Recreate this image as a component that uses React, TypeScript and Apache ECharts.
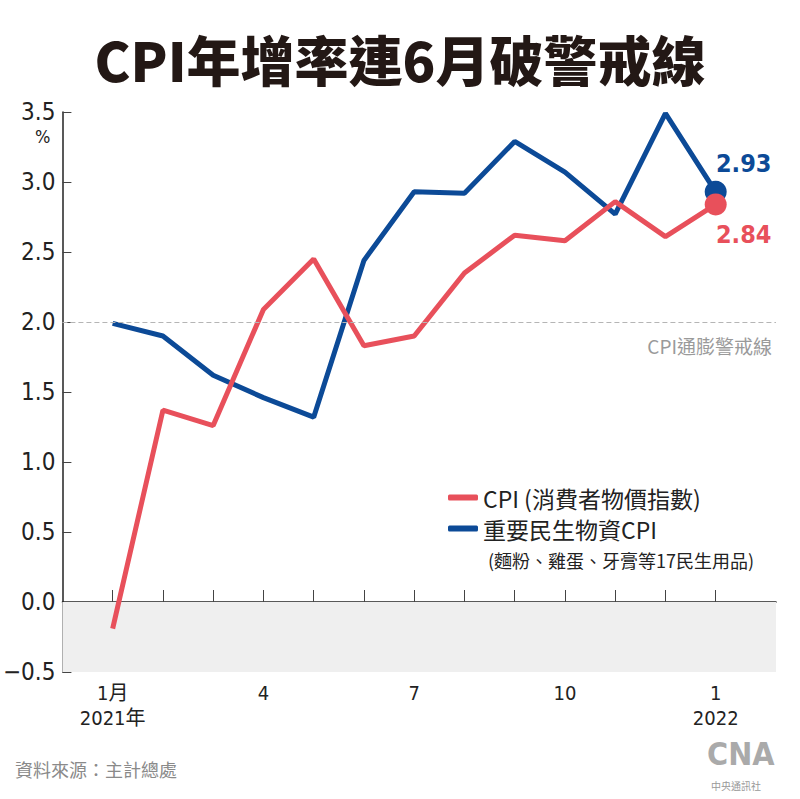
import React, { useEffect, useRef } from "react";
import * as echarts from "echarts";

const months = [1, 2, 3, 4, 5, 6, 7, 8, 9, 10, 11, 12, 13];
const cpi = [-0.19, 1.37, 1.26, 2.09, 2.45, 1.83, 1.9, 2.35, 2.62, 2.58, 2.86, 2.61, 2.84];
const essentials = [1.99, 1.9, 1.62, 1.46, 1.32, 2.44, 2.93, 2.92, 3.29, 3.07, 2.77, 3.49, 2.93];
const labelMonths = [1, 4, 7, 10, 13];
const labelText: Record<number, string> = { 1: "1月\n2021年", 4: "4", 7: "7", 10: "10", 13: "1\n2022" };
const yTicks = [-0.5, 0, 0.5, 1, 1.5, 2, 2.5, 3, 3.5];
const alertLevel = 2.0;

const RED = "#e8505b";
const BLUE = "#0c4a97";
const NUM_FONT = "'Liberation Sans Narrow', 'DejaVu Sans Condensed', 'Noto Sans CJK TC', sans-serif";
const CJK = "'Noto Sans CJK TC', sans-serif";

export default function App() {
  const ref = useRef<HTMLDivElement>(null);
  useEffect(() => {
    document.body.style.margin = "0";
    const chart = echarts.init(ref.current!, null, { renderer: "svg" });
    const mk = (vals: number[], color: string, labelOffset: number[]) =>
      vals.map((v, i) => {
        const base: any = { value: [months[i], v] };
        if (i === vals.length - 1) {
          base.symbol = "circle";
          base.symbolSize = 22;
          base.label = {
            show: true,
            formatter: v.toFixed(2),
            color,
            fontSize: 25,
            fontWeight: "bold",
            fontFamily: NUM_FONT,
            position: "inside",
            offset: labelOffset,
          };
        }
        return base;
      });
    chart.setOption({
      animation: false,
      backgroundColor: "#ffffff",
      grid: { left: 58, right: 24, top: 112, bottom: 127 },
      title: {
        text: "CPI年增率連6月破警戒線",
        left: "center",
        top: 26,
        textStyle: { fontFamily: CJK, fontWeight: 900, fontSize: 54, color: "#231815" },
      },
      legend: {
        orient: "vertical",
        left: 448,
        top: 482,
        itemWidth: 30,
        itemHeight: 6,
        itemGap: 0,
        padding: 0,
        icon: "roundRect",
        textStyle: { fontFamily: CJK, fontSize: 23, lineHeight: 31, color: "#222" },
        data: ["CPI (消費者物價指數)", "重要民生物資CPI"],
      },
      xAxis: {
        type: "value",
        min: 0,
        max: 14.2,
        axisLine: { show: true, lineStyle: { color: "#222", width: 1.5 } },
        axisTick: { show: true, inside: true, length: 12, customValues: months, lineStyle: { color: "#444" } },
        axisLabel: {
          customValues: labelMonths,
          formatter: (v: number) => labelText[v] ?? "",
          fontFamily: NUM_FONT,
          fontSize: 20,
          color: "#222",
          lineHeight: 25,
          margin: 8,
          verticalAlign: "top",
        },
        splitLine: { show: false },
      },
      yAxis: {
        type: "value",
        min: -0.5,
        max: 3.5,
        interval: 0.5,
        axisLine: { show: true, lineStyle: { color: "#222", width: 1.5 } },
        axisTick: { show: true, inside: true, length: 9, lineStyle: { color: "#444" } },
        axisLabel: {
          customValues: yTicks,
          formatter: (v: number) => (v < 0 ? "−" + Math.abs(v).toFixed(1) : v.toFixed(1)),
          fontFamily: NUM_FONT,
          fontSize: 24,
          color: "#222",
          margin: 7,
        },
        splitLine: { show: false },
      },
      graphic: [
        {
          type: "text",
          left: 35,
          top: 127,
          style: { text: "%", fontFamily: NUM_FONT, fontSize: 18, fill: "#222" },
        },
        {
          type: "text",
          right: 28,
          top: 336,
          style: { text: "CPI通膨警戒線", fontFamily: CJK, fontSize: 19, fill: "#9a9a9a" },
        },
        {
          type: "text",
          left: 488,
          top: 551,
          style: { text: "(麵粉、雞蛋、牙膏等17民生用品)", fontFamily: CJK, fontSize: 18, fill: "#222" },
        },
        {
          type: "text",
          left: 15,
          top: 760,
          style: { text: "資料來源：主計總處", fontFamily: CJK, fontSize: 18, fill: "#8a8a8a" },
        },
        {
          type: "text",
          left: 707,
          top: 738,
          style: { text: "CNA", fontFamily: NUM_FONT, fontSize: 32, fontWeight: "bold", fill: "#aaaaaa" },
        },
        {
          type: "text",
          left: 711,
          top: 780,
          style: { text: "中央通訊社", fontFamily: CJK, fontSize: 10, fill: "#999" },
        },
      ],
      series: [
        {
          name: "CPI (消費者物價指數)",
          type: "line",
          color: RED,
          symbol: "none",
          z: 3,
          lineStyle: { width: 5, color: RED },
          data: mk(cpi, RED, [28, 30]),
          markArea: {
            silent: true,
            itemStyle: { color: "#efefef" },
            data: [[{ yAxis: -0.5 }, { yAxis: 0 }]],
          },
          markLine: {
            silent: true,
            symbol: "none",
            label: { show: false },
            lineStyle: { color: "#b5b5b5", type: [5, 3], width: 1 },
            data: [{ yAxis: alertLevel }],
          },
        },
        {
          name: "重要民生物資CPI",
          type: "line",
          color: BLUE,
          symbol: "none",
          z: 2,
          lineStyle: { width: 5, color: BLUE },
          data: mk(essentials, BLUE, [28, -28]),
        },
      ],
    });
    return () => chart.dispose();
  }, []);
  return <div ref={ref} style={{ width: 800, height: 799 }} />;
}
